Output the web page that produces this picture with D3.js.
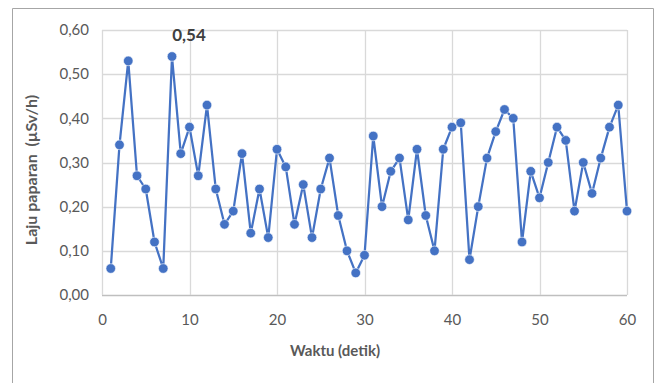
<!DOCTYPE html>
<html>
<head>
<meta charset="utf-8">
<script src="https://cdn.jsdelivr.net/npm/d3@7"></script>
<style>
  body { margin: 0; background: #fff; }
  svg { display: block; font-family: Lato, "Open Sans", sans-serif; }
</style>
</head>
<body>
<svg width="660" height="383"></svg>
<script>
// Data
var seconds = d3.range(1, 61);
var rates = [0.06, 0.34, 0.53, 0.27, 0.24, 0.12, 0.06, 0.54, 0.32, 0.38,
             0.27, 0.43, 0.24, 0.16, 0.19, 0.32, 0.14, 0.24, 0.13, 0.33,
             0.29, 0.16, 0.25, 0.13, 0.24, 0.31, 0.18, 0.10, 0.05, 0.09,
             0.36, 0.20, 0.28, 0.31, 0.17, 0.33, 0.18, 0.10, 0.33, 0.38,
             0.39, 0.08, 0.20, 0.31, 0.37, 0.42, 0.40, 0.12, 0.28, 0.22,
             0.30, 0.38, 0.35, 0.19, 0.30, 0.23, 0.31, 0.38, 0.43, 0.19];
var xTicks = [0, 10, 20, 30, 40, 50, 60];
var yTicks = [0, 0.1, 0.2, 0.3, 0.4, 0.5, 0.6];
var peakLabel = "0,54";

var data = seconds.map(function(s, i) { return {t: s, v: rates[i]}; });

var svg = d3.select("svg"),
    margin = {top: 30, right: 33, bottom: 88, left: 102},
    width = 627 - margin.left,
    height = 295 - margin.top,
    g = svg.append("g").attr("transform", "translate(" + margin.left + "," + margin.top + ")");

// outer chart frame (bottom edge is cut off in the original)
svg.append("path")
    .attr("d", "M12.5,383 V8.5 H653.5 V383")
    .attr("fill", "none")
    .attr("stroke", "#a6a6a6")
    .attr("stroke-width", 1);

var x = d3.scaleLinear().domain([0, 60]).range([0, width]);
var y = d3.scaleLinear().domain([0, 0.6]).range([height, 0]);

var comma = function(d) { return d3.format(".2f")(d).replace(".", ","); };

// grid lines
g.append("g").selectAll("line.h")
    .data(yTicks)
  .enter().append("line")
    .attr("x1", 0).attr("x2", width)
    .attr("y1", function(d) { return Math.round(y(d)) + 0.5; })
    .attr("y2", function(d) { return Math.round(y(d)) + 0.5; })
    .attr("stroke", function(d) { return d === 0 ? "#bfbfbf" : "#d9d9d9"; })
    .attr("stroke-width", 1.3);

g.append("g").selectAll("line.v")
    .data(xTicks)
  .enter().append("line")
    .attr("y1", 0).attr("y2", height)
    .attr("x1", function(d) { return Math.round(x(d)) + 0.5; })
    .attr("x2", function(d) { return Math.round(x(d)) + 0.5; })
    .attr("stroke", "#d9d9d9")
    .attr("stroke-width", 1.3);

// y axis tick labels
var yAxis = d3.axisLeft(y).tickValues(yTicks).tickFormat(comma).tickSize(0).tickPadding(13);
g.append("g").call(yAxis)
    .call(function(a) { a.select(".domain").remove(); })
    .selectAll("text")
    .attr("fill", "#595959")
    .style("font-size", "15px")
    .style("font-family", "Lato, sans-serif");

// x axis tick labels
var xAxis = d3.axisBottom(x).tickValues(xTicks).tickSize(0).tickPadding(19);
g.append("g").attr("transform", "translate(0," + height + ")").call(xAxis)
    .call(function(a) { a.select(".domain").remove(); })
    .selectAll("text")
    .attr("fill", "#595959")
    .style("font-size", "15px")
    .style("font-family", "Lato, sans-serif");

// axis titles
svg.append("text")
    .attr("x", 335).attr("y", 356)
    .attr("text-anchor", "middle")
    .attr("fill", "#595959")
    .style("font-size", "15px")
    .style("font-weight", "bold")
    .text("Waktu (detik)");

svg.append("text")
    .attr("transform", "translate(37,170) rotate(-90)")
    .attr("text-anchor", "middle")
    .attr("fill", "#595959")
    .style("font-size", "16px")
    .style("font-weight", "bold")
    .style("white-space", "pre")
    .text("Laju paparan  (\u00b5Sv/h)");

// series line
var line = d3.line()
    .x(function(d) { return x(d.t); })
    .y(function(d) { return y(d.v); });

g.append("path")
    .datum(data)
    .attr("d", line)
    .attr("fill", "none")
    .attr("stroke", "#4472c4")
    .attr("stroke-width", 2.25)
    .attr("stroke-linejoin", "round");

g.append("g").selectAll("circle")
    .data(data)
  .enter().append("circle")
    .attr("cx", function(d) { return x(d.t); })
    .attr("cy", function(d) { return y(d.v); })
    .attr("r", 4.8)
    .attr("fill", "#4472c4")
    .attr("stroke", "#fff")
    .attr("stroke-width", 0.6);

// label for the peak value
var peak = data[d3.maxIndex(data, function(d) { return d.v; })];
g.append("text")
    .attr("x", x(peak.t) + 17)
    .attr("y", y(peak.v) - 16)
    .attr("text-anchor", "middle")
    .attr("fill", "#404040")
    .style("font-size", "17px")
    .style("font-weight", "bold")
    .text(peakLabel);
</script>
</body>
</html>
